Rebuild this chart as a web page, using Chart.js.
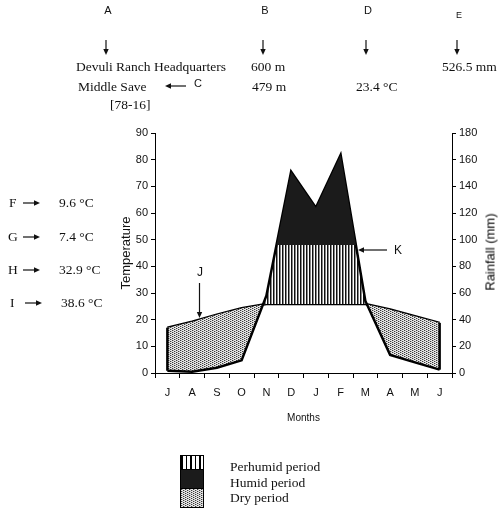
<!DOCTYPE html>
<html>
<head>
<meta charset="utf-8">
<script src="https://cdn.jsdelivr.net/npm/chart.js@4.4.0/dist/chart.umd.min.js"></script>
<style>
  html, body { margin: 0; padding: 0; background: #fff; }
  #wrap { position: relative; width: 498px; height: 511px; overflow: hidden; }
  #chart { position: absolute; left: 0; top: 0; }
  .t {
    position: absolute; white-space: nowrap; line-height: 1; color: #111;
    font-family: "Liberation Serif", "Times New Roman", serif; font-size: 13.5px;
    transform: translateY(-50%);
  }
  .s {
    font-family: "Liberation Sans", Arial, sans-serif; font-size: 11px;
    transform: translate(-50%, -50%);
  }
  .box { position: absolute; left: 180px; width: 24px; border: 1px solid #000; box-sizing: border-box; }
</style>
</head>
<body>
<div id="wrap">
  <canvas id="chart" width="498" height="511"></canvas>

  <!-- header annotations -->
  <div class="t s" style="left:108px;top:10px">A</div>
  <div class="t s" style="left:265px;top:10px">B</div>
  <div class="t s" style="left:368px;top:10px">D</div>
  <div class="t s" style="left:459px;top:15px;font-size:9px">E</div>

  <div class="t" style="left:76px;top:67px">Devuli Ranch Headquarters</div>
  <div class="t" style="left:251px;top:67px">600 m</div>
  <div class="t" style="left:442px;top:67px">526.5 mm</div>
  <div class="t" style="left:78px;top:87px">Middle Save</div>
  <div class="t s" style="left:198px;top:83px">C</div>
  <div class="t" style="left:252px;top:87px">479 m</div>
  <div class="t" style="left:356px;top:87px">23.4 °C</div>
  <div class="t" style="left:110px;top:105px">[78-16]</div>

  <!-- left side temperatures -->
  <div class="t" style="left:9px;top:203px">F</div>
  <div class="t" style="left:59px;top:203px">9.6 °C</div>
  <div class="t" style="left:8px;top:237px">G</div>
  <div class="t" style="left:59px;top:237px">7.4 °C</div>
  <div class="t" style="left:8px;top:270px">H</div>
  <div class="t" style="left:59px;top:270px">32.9 °C</div>
  <div class="t" style="left:10px;top:303px">I</div>
  <div class="t" style="left:61px;top:303px">38.6 °C</div>

  <!-- labels inside the plot -->
  <div class="t s" style="left:200px;top:272px;font-size:12px">J</div>
  <div class="t s" style="left:398px;top:250px;font-size:12px">K</div>

  <div class="t" style="left:490px;top:252px;font-family:'Liberation Sans',Arial,sans-serif;font-size:13px;color:#000;transform:translate(-50%,-50%) rotate(-90deg)">Rainfall (mm)</div>

  <!-- legend -->
  <div class="box" id="legStripes" style="top:455px;height:15px"></div>
  <div class="box" style="top:469px;height:20px;background:#1b1b1b"></div>
  <div class="box" id="legDots" style="top:488px;height:20px"></div>
  <div class="t" style="left:230px;top:467px">Perhumid period</div>
  <div class="t" style="left:230px;top:483px">Humid period</div>
  <div class="t" style="left:230px;top:498px">Dry period</div>
</div>

<script>
// monthly values, July to June
const months = ["J", "A", "S", "O", "N", "D", "J", "F", "M", "A", "M", "J"]
const temperature = [17, 19.2, 21.9, 24.3, 25.9, 25.9, 25.9, 25.9, 25.9, 23.8, 21.3, 18.8]
const rainfall = [1.7, 1, 4, 9.5, 58, 151, 124, 163.5, 54, 13.5, 8, 2.5]
// rainfall level where the humid (black) part starts
const perhumidLimit = [96, 96, 96, 96, 96, 96, 96, 96, 96, 96, 96, 96]

const baseFont = { family: "'Liberation Sans', Arial, sans-serif", size: 11 }

// small tiles for the hatch and stipple fills
function makeTile(w, h, paint) {
  const c = document.createElement("canvas")
  c.width = w
  c.height = h
  paint(c.getContext("2d"))
  return c
}

const stripeTile = makeTile(3, 1, g => {
  g.fillStyle = "#fff"
  g.fillRect(0, 0, 3, 1)
  g.fillStyle = "#111"
  g.fillRect(0, 0, 1, 1)
  g.fillStyle = "#888"
  g.fillRect(1, 0, 1, 1)
})

// staggered dots, reads as a fine grey stipple
const dotTile = makeTile(4, 2, g => {
  g.fillStyle = "#e8e8e8"
  g.fillRect(0, 0, 4, 2)
  g.fillStyle = "#3a3a3a"
  g.fillRect(0, 0, 1, 1)
  g.fillRect(2, 1, 1, 1)
  g.fillStyle = "#b0b0b0"
  g.fillRect(1, 0, 1, 1)
  g.fillRect(3, 1, 1, 1)
})

const ctx = document.getElementById("chart").getContext("2d")
const stripes = ctx.createPattern(stripeTile, "repeat")
const dots = ctx.createPattern(dotTile, "repeat")

document.getElementById("legStripes").style.background =
  "repeating-linear-gradient(90deg, #000 0 1.6px, #fff 1.6px 4.6px)"
document.getElementById("legDots").style.background = "url(" + dotTile.toDataURL() + ")"

function arrow(g, x1, y1, x2, y2, head) {
  const a = Math.atan2(y2 - y1, x2 - x1)
  const cos = Math.cos(a), sin = Math.sin(a)
  g.beginPath()
  g.moveTo(x1, y1)
  g.lineTo(x2 - cos * head * 0.7, y2 - sin * head * 0.7)
  g.stroke()
  g.beginPath()
  g.moveTo(x2, y2)
  g.lineTo(x2 - head * cos + head * 0.45 * sin, y2 - head * sin - head * 0.45 * cos)
  g.lineTo(x2 - head * cos - head * 0.45 * sin, y2 - head * sin + head * 0.45 * cos)
  g.closePath()
  g.fill()
}

// pointer arrows of the annotations: [x1, y1, x2, y2]
const pointers = [
  [106, 40, 106, 55], [263, 40, 263, 55], [366, 40, 366, 55], [457, 40, 457, 55],
  [186, 86, 165, 86],
  [23, 203, 40, 203], [23, 237, 40, 237], [23, 270, 40, 270], [25, 303, 42, 303],
  [199.5, 283, 199.5, 318],
  [387, 250, 358, 250],
]

const extras = {
  id: "extras",
  afterDatasetsDraw(chart) {
    const { ctx: g, scales: { x, y, y1 } } = chart
    g.save()
    g.strokeStyle = "#000"
    g.lineWidth = 2.5
    // close the dry polygons at both ends of the year
    for (const i of [0, months.length - 1]) {
      const px = x.getPixelForValue(i)
      g.beginPath()
      g.moveTo(px, y.getPixelForValue(temperature[i]))
      g.lineTo(px, y1.getPixelForValue(rainfall[i]))
      g.stroke()
    }
    g.restore()
  },
  afterDraw(chart) {
    const g = chart.ctx
    g.save()
    g.strokeStyle = "#111"
    g.fillStyle = "#111"
    g.lineWidth = 1.2
    pointers.forEach(p => arrow(g, p[0], p[1], p[2], p[3], 6))
    g.restore()
  },
}

new Chart(ctx, {
  type: "line",
  data: {
    labels: months,
    datasets: [
      {
        // black part above the limit
        label: "Humid",
        data: rainfall,
        yAxisID: "y1",
        borderWidth: 0,
        pointRadius: 0,
        fill: { target: 1, above: "#1b1b1b", below: "rgba(0,0,0,0)" },
      },
      {
        label: "Limit",
        data: perhumidLimit,
        yAxisID: "y1",
        borderWidth: 0,
        borderColor: "rgba(0,0,0,0)",
        pointRadius: 0,
        fill: false,
      },
      {
        label: "Rainfall",
        data: rainfall,
        yAxisID: "y1",
        borderColor: "#000",
        borderWidth: 2.5,
        pointRadius: 0,
        fill: { target: 3, above: stripes, below: dots },
      },
      {
        label: "Temperature",
        data: temperature,
        yAxisID: "y",
        borderColor: "#000",
        borderWidth: 2.5,
        pointRadius: 0,
        fill: false,
      },
    ],
  },
  options: {
    responsive: false,
    animation: false,
    devicePixelRatio: 1,
    events: [],
    layout: { padding: { left: 115, top: 133, right: 0, bottom: 81 } },
    elements: { line: { tension: 0, borderJoinStyle: "miter" }, point: { radius: 0 } },
    plugins: {
      legend: { display: false },
      tooltip: { enabled: false },
    },
    scales: {
      x: {
        offset: true,
        grid: { offset: true, drawOnChartArea: false, tickLength: 5, color: "#000" },
        border: { color: "#000" },
        ticks: { color: "#111", font: baseFont, padding: 8, maxRotation: 0, autoSkip: false },
        title: {
          display: true,
          text: "Months",
          color: "#111",
          font: { family: "'Liberation Sans Narrow', 'Liberation Sans', sans-serif", size: 10 },
          padding: { top: 4, bottom: 6 },
        },
        afterFit: s => { s.height = 57 },
      },
      y: {
        position: "left",
        min: 0,
        max: 90,
        grid: { drawOnChartArea: false, tickLength: 4, color: "#000" },
        border: { color: "#000" },
        ticks: { stepSize: 10, color: "#111", font: baseFont, padding: 3 },
        title: {
          display: true,
          text: "Temperature",
          color: "#111",
          font: { family: baseFont.family, size: 13 },
          padding: { top: 4, bottom: 0 },
        },
        afterFit: s => { s.width = 40 },
      },
      y1: {
        position: "right",
        min: 0,
        max: 180,
        grid: { drawOnChartArea: false, tickLength: 4, color: "#000" },
        border: { color: "#000" },
        ticks: { stepSize: 20, color: "#111", font: baseFont, padding: 3 },
        afterFit: s => { s.width = 46 },
      },
    },
  },
  plugins: [extras],
})
</script>
</body>
</html>
